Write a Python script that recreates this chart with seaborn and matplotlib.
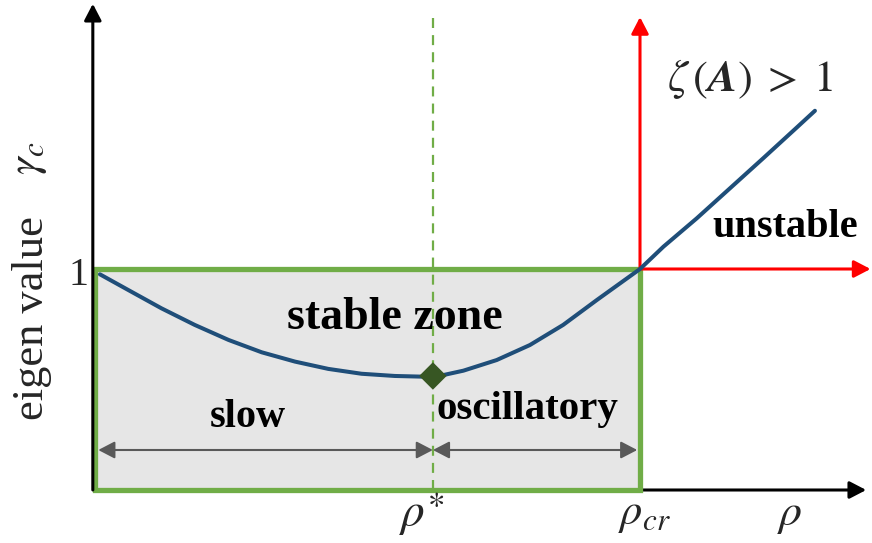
import matplotlib
matplotlib.use("Agg")
import matplotlib.pyplot as plt
from matplotlib.patches import Rectangle, ArrowStyle
import seaborn as sns

# Eigenvalue curve gamma_c(rho) of the iteration, rho_cr normalised to 1
rho = [0.009, 0.061, 0.122, 0.183, 0.245, 0.306, 0.367, 0.428, 0.489,
       0.550, 0.599, 0.620, 0.639, 0.676, 0.737, 0.798, 0.859, 0.921,
       1.000, 1.043, 1.104, 1.165, 1.226, 1.288, 1.321]
gamma = [0.976, 0.905, 0.822, 0.747, 0.679, 0.623, 0.581, 0.548, 0.526,
         0.516, 0.513, 0.516, 0.520, 0.540, 0.588, 0.656, 0.747, 0.860,
         1.000, 1.101, 1.229, 1.365, 1.501, 1.641, 1.716]

rho_star = 0.62
gamma_star = 0.516
rho_cr = 1.0
gamma_limit = 1.0

tick_labels = {"rho_star": r"$\rho^{\ast}$", "rho_cr": r"$\rho_{cr}$", "rho": r"$\rho$"}
zone_labels = ["stable zone", "slow", "oscillatory", "unstable"]

sns.set_style("white")
plt.rcParams["font.family"] = ["Liberation Serif", "DejaVu Serif"]
plt.rcParams["mathtext.fontset"] = "stix"

fig = plt.figure(figsize=(8.72, 5.43), dpi=100)
ax = fig.add_axes([0, 0, 1, 1])
ax.set_xlim(-95 / 545, 777 / 545)
ax.set_ylim(-53 / 221, 490 / 221)
ax.axis("off")

GREEN = "#70ad47"
BLUE = "#1f4e79"
GREY = "#595959"

# stable region box
ax.add_patch(Rectangle((0, 0), rho_cr, gamma_limit, facecolor="#e6e6e6",
                       edgecolor=GREEN, lw=3.8, zorder=1))

def arrow(x0, y0, x1, y1, color, lw, style="-|>", z=3):
    ax.annotate("", xy=(x1, y1), xytext=(x0, y0),
                arrowprops=dict(arrowstyle=ArrowStyle(style, head_length=0.5, head_width=0.26),
                                mutation_scale=20, color=color, lw=lw,
                                shrinkA=0, shrinkB=0),
                zorder=z)

# main axes
arrow(-0.004, 0.0, -0.004, 2.20, "black", 2.2)
arrow(0.0, 0.0, 1.415, 0.0, "black", 2.2, z=0.5)

# unstable-region axes
arrow(rho_cr, gamma_limit, rho_cr, 2.14, "red", 2.2)
arrow(rho_cr, gamma_limit, 1.423, gamma_limit, "red", 2.2)

# rho* marker line
ax.plot([rho_star, rho_star], [0, 2.14], color=GREEN, lw=1.6,
        dashes=(4.5, 3.2), zorder=2)

# slow / oscillatory spans
arrow(rho_star, 0.181, 0.006, 0.181, GREY, 1.5, style="<|-|>")
arrow(rho_star, 0.181, 0.995, 0.181, GREY, 1.5, style="<|-|>")

sns.lineplot(x=rho, y=gamma, ax=ax, sort=False, estimator=None,
             color=BLUE, lw=2.9, zorder=4)
sns.scatterplot(x=[rho_star], y=[gamma_star], ax=ax, marker="D", s=14 ** 2,
                color="#375623", edgecolor="none", zorder=5)

bold = dict(fontweight="bold", ha="center", va="center", color="black")
ax.text(0.55, 0.778, zone_labels[0], fontsize=33, **bold)
ax.text(0.281, 0.326, zone_labels[1], fontsize=29, **bold)
ax.text(0.793, 0.362, zone_labels[2], fontsize=29.5, **bold)
ax.text(1.266, 1.186, zone_labels[3], fontsize=29, **bold)

ax.text(1.202, 1.86, r"$\zeta\,(\boldsymbol{A})\;>\;1$", fontsize=32,
        ha="center", va="center")
ax.text(-0.031, 0.97, "1", fontsize=29, ha="center", va="center")
ax.text(-0.116, 0.78, "eigen value", fontsize=32, rotation=90,
        ha="center", va="center")
ax.text(-0.122, 1.50, r"$\gamma_c$", fontsize=32, rotation=90,
        ha="center", va="center")

ax.text(0.600, -0.113, tick_labels["rho_star"], fontsize=34, ha="center", va="center")
ax.text(1.009, -0.113, tick_labels["rho_cr"], fontsize=32, ha="center", va="center")
ax.text(1.275, -0.113, tick_labels["rho"], fontsize=33, ha="center", va="center")

fig.savefig("out.png", dpi=100)
